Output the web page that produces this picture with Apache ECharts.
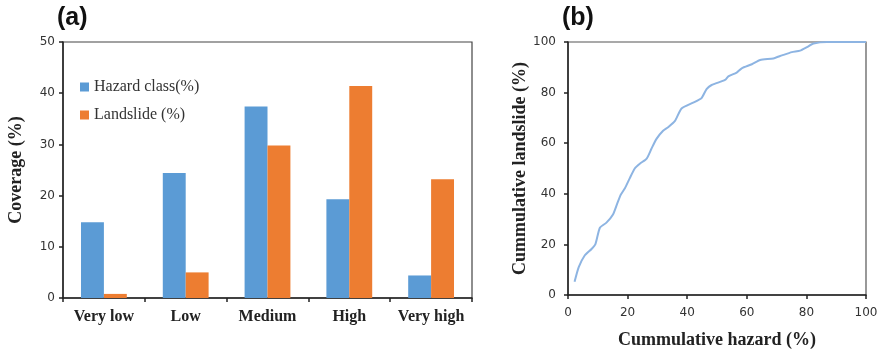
<!DOCTYPE html>
<html>
<head>
<meta charset="utf-8">
<script src="https://cdn.jsdelivr.net/npm/echarts@6/dist/echarts.min.js"></script>
<style>
  html, body { margin: 0; padding: 0; background: #fff; }
  #chart { width: 883px; height: 354px; }
</style>
</head>
<body>
<div id="chart"></div>
<script>
// (a) coverage by hazard class
const classes = ['Very low', 'Low', 'Medium', 'High', 'Very high'];
const hazardClassPct = [14.8, 24.4, 37.4, 19.3, 4.4];
const landslidePct = [0.8, 5.0, 29.8, 41.4, 23.2];
const coverageTicks = { min: 0, max: 50, interval: 10 };

// (b) cumulative landslide vs cumulative hazard
const cumHazard = [2.2, 3.6, 5.6, 7.9, 9.2, 10.7, 12.9, 15.1, 16.6, 17.7, 19.1, 20.7, 22.4, 24.1, 26.4, 28.0, 29.7, 31.9, 33.6, 35.9, 38.1, 42.0, 44.8, 46.5, 48.2, 52.7, 53.8, 56.6, 58.3, 61.7, 64.5, 68.9, 71.8, 75.1, 77.9, 80.2, 82.4, 86.9, 93.0, 100];
const cumLandslide = [5.2, 11.0, 15.6, 18.2, 20.1, 26.6, 28.6, 31.8, 36.4, 39.6, 42.2, 46.1, 50.0, 51.9, 53.9, 57.8, 61.7, 64.9, 66.3, 68.8, 73.7, 76.0, 77.8, 81.4, 83.0, 85.0, 86.4, 87.9, 89.6, 91.2, 92.9, 93.5, 94.7, 96.0, 96.6, 98.0, 99.4, 100, 100, 100];
const cumTicks = { min: 0, max: 100, interval: 20 };

const serif = 'Liberation Serif';
const tickFont = { fontFamily: 'DejaVu Sans', fontSize: 12, color: '#333' };
const axisLine = { show: true, lineStyle: { color: '#222', width: 1.5 } };
const axisTick = { show: true, inside: false, length: 4, lineStyle: { color: '#222', width: 1.5 } };
const titleFont = { fontFamily: serif, fontWeight: 'bold', fontSize: 18, color: '#222' };

const chart = echarts.init(document.getElementById('chart'), null, { renderer: 'canvas' });
chart.setOption({
  animation: false,
  backgroundColor: '#fff',
  graphic: [
    { type: 'text', left: 57, top: 6, style: { text: '(a)', font: 'bold 25px "Liberation Sans"', fill: '#111' } },
    { type: 'text', left: 562, top: 6, style: { text: '(b)', font: 'bold 25px "Liberation Sans"', fill: '#111' } }
  ],
  legend: {
    data: ['Hazard class(%)', 'Landslide (%)'],
    orient: 'vertical',
    left: 75, top: 74,
    itemWidth: 9, itemHeight: 9, itemGap: 12,
    icon: 'rect',
    textStyle: { fontFamily: serif, fontSize: 16, color: '#333' }
  },
  grid: [
    { left: 63, right: 411, top: 42, bottom: 56, show: true, borderColor: '#444', borderWidth: 1.2, containLabel: false },
    { left: 568, right: 17, top: 42, bottom: 56, show: true, borderColor: '#555', borderWidth: 1.2, containLabel: false }
  ],
  xAxis: [
    {
      gridIndex: 0, type: 'category', data: classes, boundaryGap: true,
      axisLine, axisTick,
      axisLabel: { fontFamily: serif, fontWeight: 'bold', fontSize: 16, color: '#222', margin: 11, interval: 0 },
      splitLine: { show: false }
    },
    {
      gridIndex: 1, type: 'value', min: cumTicks.min, max: cumTicks.max, interval: cumTicks.interval,
      axisLine, axisTick,
      axisLabel: Object.assign({ margin: 12 }, tickFont),
      splitLine: { show: false },
      name: 'Cummulative hazard (%)', nameLocation: 'middle', nameGap: 36,
      nameTextStyle: titleFont
    }
  ],
  yAxis: [
    {
      gridIndex: 0, type: 'value', min: coverageTicks.min, max: coverageTicks.max, interval: coverageTicks.interval,
      axisLine, axisTick,
      axisLabel: Object.assign({ margin: 8 }, tickFont),
      splitLine: { show: false },
      name: 'Coverage (%)', nameLocation: 'middle', nameGap: 38,
      nameTextStyle: titleFont
    },
    {
      gridIndex: 1, type: 'value', min: cumTicks.min, max: cumTicks.max, interval: cumTicks.interval,
      axisLine, axisTick,
      axisLabel: Object.assign({ margin: 12 }, tickFont),
      splitLine: { show: false },
      name: 'Cummulative landslide (%)', nameLocation: 'middle', nameGap: 38,
      nameTextStyle: titleFont
    }
  ],
  series: [
    {
      name: 'Hazard class(%)', type: 'bar', xAxisIndex: 0, yAxisIndex: 0,
      data: hazardClassPct, barGap: '0%', barCategoryGap: '44%',
      itemStyle: { color: '#5B9BD5' }
    },
    {
      name: 'Landslide (%)', type: 'bar', xAxisIndex: 0, yAxisIndex: 0,
      data: landslidePct, barGap: '0%', barCategoryGap: '44%',
      itemStyle: { color: '#ED7D31' }
    },
    {
      name: 'Cumulative', type: 'line', xAxisIndex: 1, yAxisIndex: 1,
      data: cumHazard.map((h, i) => [h, cumLandslide[i]]),
      showSymbol: false, smooth: 0.2,
      lineStyle: { color: '#8DB4E2', width: 2 },
      z: 5
    }
  ]
});
</script>
</body>
</html>
